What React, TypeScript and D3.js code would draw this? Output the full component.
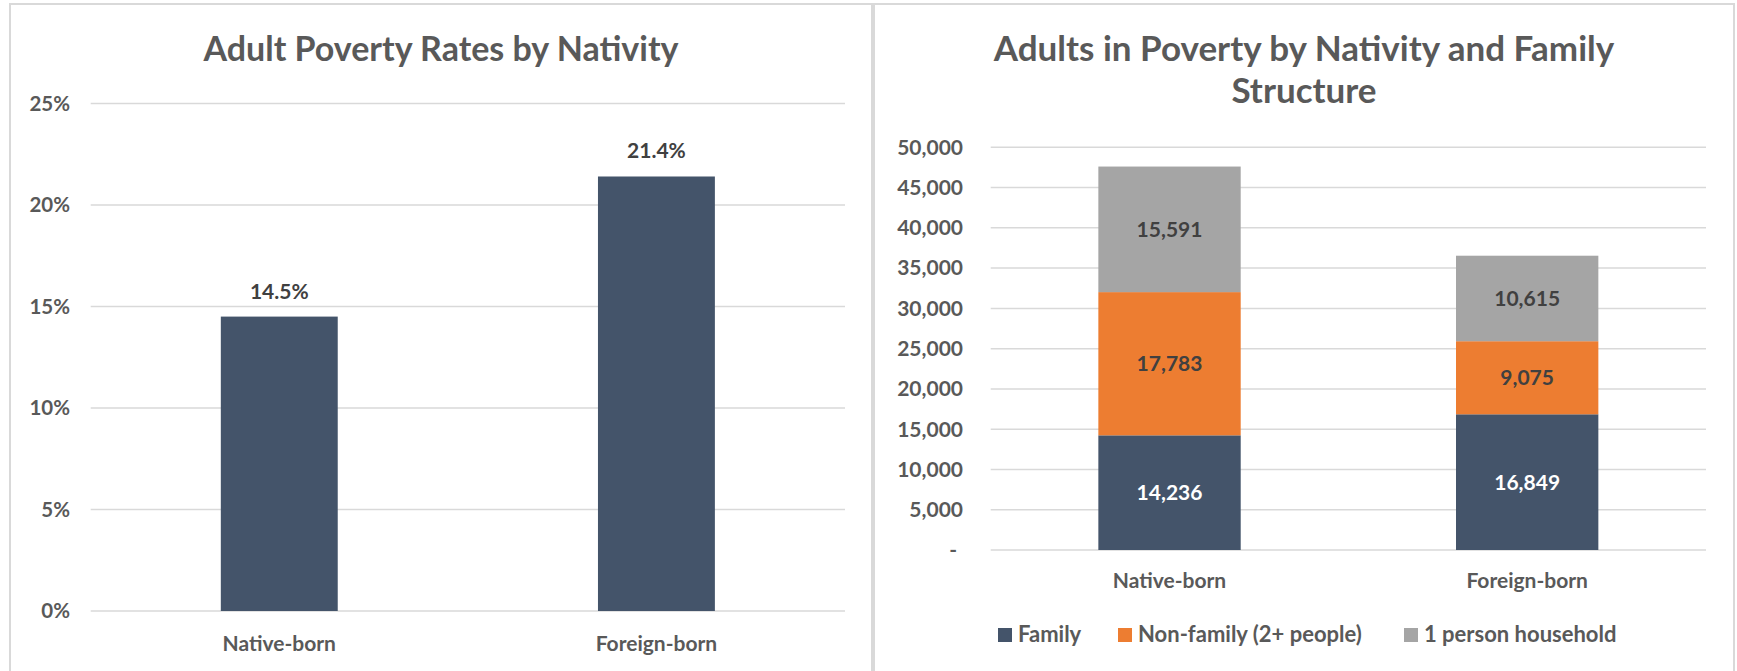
import React from "react";
import * as d3 from "d3";

// ---- data ----
const categories = ["Native-born", "Foreign-born"];
const povertyRates = [14.5, 21.4]; // percent
const rateTicks = [0, 5, 10, 15, 20, 25];

const seriesNames = ["Family", "Non-family (2+ people)", "1 person household"];
const familyValues = [14236, 16849];
const nonFamilyValues = [17783, 9075];
const onePersonValues = [15591, 10615];
const countTicks = [0, 5000, 10000, 15000, 20000, 25000, 30000, 35000, 40000, 45000, 50000];

const leftTitle = "Adult Poverty Rates by Nativity";
const rightTitleLines = ["Adults in Poverty by Nativity and Family", "Structure"];

// ---- styles ----
const W = 1737;
const H = 671;
const FONT = "Lato, 'Open Sans', sans-serif";
const BAR = "#44546A";
const COLORS = ["#44546A", "#ED7D31", "#A5A5A5"];
const LABEL_COLORS = ["#FFFFFF", "#404040", "#404040"];
const AXIS_TEXT = "#595959";
const GRID = "#D9D9D9";
const BORDER = "#D9D9D9";

export default function App() {
  // left chart scales
  const lx = d3.scaleBand<string>().domain(categories).range([90.7, 845]).padding(0);
  const ly = d3.scaleLinear().domain([0, 25]).range([611, 103.4]);
  const lBarW = lx.step() * 0.31;

  // right chart scales
  const rx = d3.scaleBand<string>().domain(categories).range([990.7, 1706]).padding(0);
  const ry = d3.scaleLinear().domain([0, 50000]).range([550, 147.3]);
  const rBarW = rx.step() * 0.398;

  const table = categories.map((c, i) => ({
    cat: c,
    s0: familyValues[i],
    s1: nonFamilyValues[i],
    s2: onePersonValues[i],
  }));
  const stacked = d3.stack<any>().keys(["s0", "s1", "s2"])(table);
  const fmt = d3.format(",");

  const legendSquares = [998, 1118, 1404];

  return (
    <svg
      width={W}
      height={H}
      style={{ position: "absolute", left: 0, top: 0, display: "block", background: "#fff" }}
      fontFamily={FONT}
    >
      <rect x={0} y={0} width={W} height={H} fill="#fff" />
      {/* panel borders */}
      <rect x={10} y={4} width={862} height={720} fill="none" stroke={BORDER} strokeWidth={2} />
      <rect x={874} y={4} width={860} height={720} fill="none" stroke={BORDER} strokeWidth={2} />

      {/* ---------- LEFT CHART ---------- */}
      <text x={441} y={61} textAnchor="middle" fontSize={34} fontWeight={700} fill={AXIS_TEXT}>
        {leftTitle}
      </text>
      {rateTicks.map((t) => (
        <g key={"lt" + t}>
          <line x1={90.7} x2={845} y1={ly(t)} y2={ly(t)} stroke={GRID} strokeWidth={1.5} />
          <text x={70} y={ly(t)} dy="0.35em" textAnchor="end" fontSize={20.5} fontWeight={700} fill={AXIS_TEXT}>
            {t + "%"}
          </text>
        </g>
      ))}
      {categories.map((c, i) => {
        const cx = (lx(c) as number) + lx.bandwidth() / 2;
        return (
          <g key={"lb" + c}>
            <rect x={cx - lBarW / 2} y={ly(povertyRates[i])} width={lBarW} height={ly(0) - ly(povertyRates[i])} fill={BAR} />
            <text x={cx} y={ly(povertyRates[i]) - 18} textAnchor="middle" fontSize={21} fontWeight={700} fill="#404040">
              {povertyRates[i].toFixed(1) + "%"}
            </text>
            <text x={cx} y={651} textAnchor="middle" fontSize={21} fontWeight={700} fill={AXIS_TEXT}>
              {c}
            </text>
          </g>
        );
      })}

      {/* ---------- RIGHT CHART ---------- */}
      {rightTitleLines.map((line, i) => (
        <text key={"rt" + i} x={1304} y={61 + i * 42} textAnchor="middle" fontSize={35} fontWeight={700} fill={AXIS_TEXT}>
          {line}
        </text>
      ))}
      {countTicks.map((t) => (
        <g key={"rtk" + t}>
          <line x1={990.7} x2={1706} y1={ry(t)} y2={ry(t)} stroke={GRID} strokeWidth={1.5} />
          <text
            x={t === 0 ? 957 : 963}
            y={ry(t)}
            dy="0.35em"
            textAnchor="end"
            fontSize={21}
            fontWeight={700}
            fill={AXIS_TEXT}
          >
            {t === 0 ? "-" : fmt(t)}
          </text>
        </g>
      ))}
      {stacked.map((layer, si) => (
        <g key={"layer" + si}>
          {layer.map((d, ci) => {
            const c = categories[ci];
            const cx = (rx(c) as number) + rx.bandwidth() / 2;
            const y0 = ry(d[0]);
            const y1 = ry(d[1]);
            return (
              <g key={"seg" + si + ci}>
                <rect x={cx - rBarW / 2} y={y1} width={rBarW} height={y0 - y1} fill={COLORS[si]} />
                <text
                  x={cx}
                  y={(y0 + y1) / 2}
                  dy="0.36em"
                  textAnchor="middle"
                  fontSize={21}
                  fontWeight={700}
                  fill={LABEL_COLORS[si]}
                >
                  {fmt(d[1] - d[0])}
                </text>
              </g>
            );
          })}
        </g>
      ))}
      {categories.map((c) => (
        <text
          key={"rc" + c}
          x={(rx(c) as number) + rx.bandwidth() / 2}
          y={588}
          textAnchor="middle"
          fontSize={21}
          fontWeight={700}
          fill={AXIS_TEXT}
        >
          {c}
        </text>
      ))}
      {seriesNames.map((name, i) => (
        <g key={"lg" + i}>
          <rect x={legendSquares[i]} y={628} width={14} height={14} fill={COLORS[i]} />
          <text x={legendSquares[i] + 20} y={642} fontSize={22} fontWeight={700} fill={AXIS_TEXT}>
            {name}
          </text>
        </g>
      ))}
    </svg>
  );
}
